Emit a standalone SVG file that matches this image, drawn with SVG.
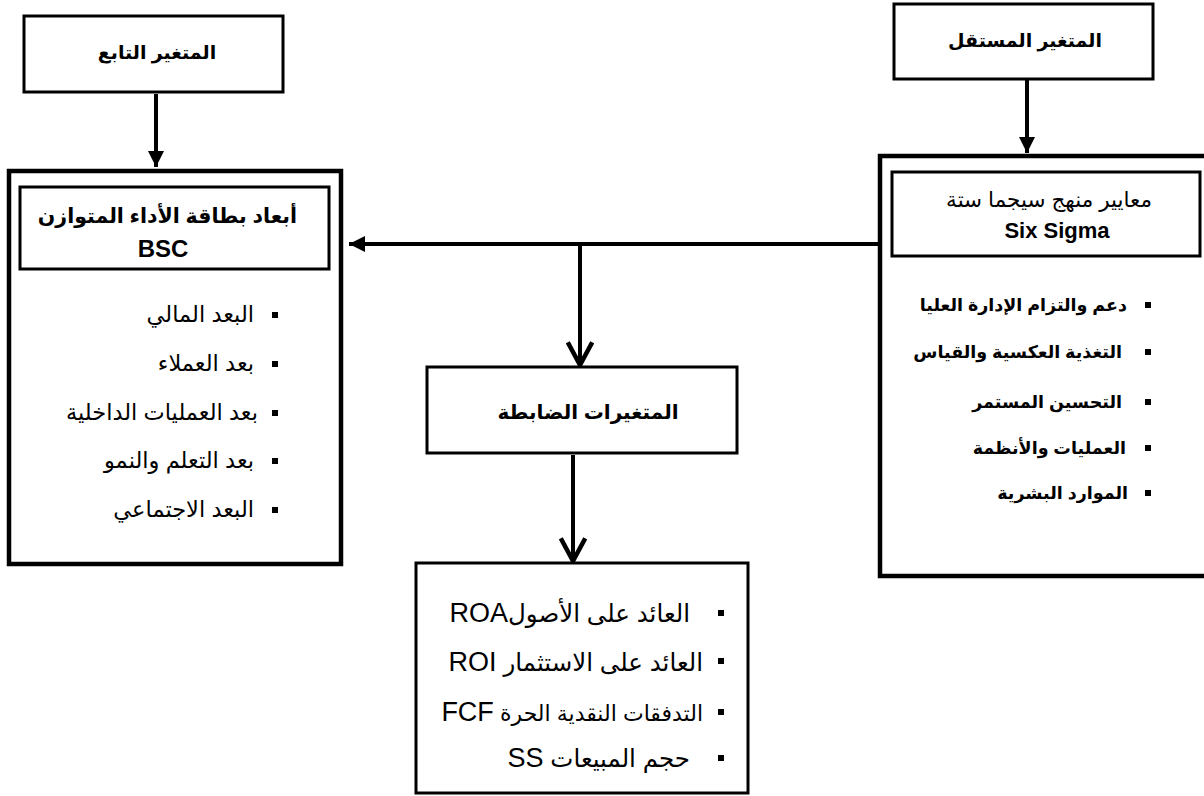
<svg xmlns="http://www.w3.org/2000/svg" width="1204" height="796" viewBox="0 0 1204 796">
  <style>
    .box { fill: #fff; stroke: #000; stroke-width: 3; }
    .frame { fill: #fff; stroke: #000; stroke-width: 4.5; }
    .t { font-family: "Liberation Sans", "DejaVu Sans", sans-serif; fill: #000; }
    .head { font-size: 19px; font-weight: bold; }
    .item { font-size: 22.5px; }
    .itemb { font-size: 17.5px; font-weight: bold; }
    .big { font-size: 24.5px; }
    .lat { font-size: 27px; }
    .line { stroke: #000; stroke-width: 4; fill: none; }
    .bul { fill: #000; }
  </style>
  <defs>
    <marker id="tri" viewBox="0 0 10 10" refX="10" refY="5" markerWidth="4" markerHeight="4" orient="auto" markerUnits="strokeWidth">
      <path d="M0,0 L10,5 L0,10 Z" fill="#000"/>
    </marker>
    <marker id="chev" viewBox="0 0 16 16" refX="14" refY="8" markerWidth="7" markerHeight="7" orient="auto" markerUnits="strokeWidth">
      <path d="M1,1 L14,8 L1,15" fill="none" stroke="#000" stroke-width="2.6"/>
    </marker>
  </defs>

  <!-- connectors -->
  <g id="connectors">
    <line class="line" x1="156" y1="94" x2="156" y2="167" marker-end="url(#tri)"/>
    <line class="line" x1="1027" y1="80" x2="1027" y2="153" marker-end="url(#tri)"/>
    <line class="line" x1="879" y1="244" x2="349" y2="244" marker-end="url(#tri)"/>
    <line class="line" x1="580" y1="246" x2="580" y2="365" marker-end="url(#chev)"/>
    <line class="line" x1="573" y1="455" x2="573" y2="561" marker-end="url(#chev)"/>
  </g>

  <!-- dependent variable -->
  <g id="dependent-title">
    <rect class="box" x="24" y="16" width="259" height="76"/>
    <text class="t head" x="157" y="59" text-anchor="middle" direction="rtl">المتغير التابع</text>
  </g>

  <g id="bsc">
    <rect class="frame" x="9" y="171" width="332" height="393"/>
    <rect class="box" x="20" y="187" width="309" height="82"/>
    <text class="t head" x="297" y="223" text-anchor="start" direction="rtl" style="font-size:20.5px">أبعاد بطاقة الأداء المتوازن</text>
    <text class="t" x="163" y="257" text-anchor="middle" style="font-size:24px;font-weight:bold">BSC</text>
    <g class="t item" direction="rtl">
      <rect class="bul" x="272" y="312" width="6" height="6"/>
      <text x="254" y="322" text-anchor="start">البعد المالي</text>
      <rect class="bul" x="272" y="361" width="6" height="6"/>
      <text x="254" y="371" text-anchor="start">بعد العملاء</text>
      <rect class="bul" x="272" y="410" width="6" height="6"/>
      <text x="258" y="420" text-anchor="start">بعد العمليات الداخلية</text>
      <rect class="bul" x="272" y="458" width="6" height="6"/>
      <text x="254" y="468" text-anchor="start">بعد التعلم والنمو</text>
      <rect class="bul" x="272" y="507" width="6" height="6"/>
      <text x="254" y="517" text-anchor="start">البعد الاجتماعي</text>
    </g>
  </g>

  <!-- independent variable -->
  <g id="independent-title">
    <rect class="box" x="894" y="4" width="259" height="75"/>
    <text class="t head" x="1025" y="47" text-anchor="middle" direction="rtl">المتغير المستقل</text>
  </g>

  <g id="six-sigma">
    <rect class="frame" x="880" y="156" width="330" height="420"/>
    <rect class="box" x="892" y="172" width="308" height="84"/>
    <text class="t" x="1152" y="207" text-anchor="start" direction="rtl" style="font-size:21.5px">معايير منهج سيجما ستة</text>
    <text class="t" x="1057" y="238" text-anchor="middle" style="font-size:22px;font-weight:bold">Six Sigma</text>
    <g class="t itemb" direction="rtl">
      <rect class="bul" x="1145" y="302" width="6" height="6"/>
      <text x="1127" y="311" text-anchor="start">دعم والتزام الإدارة العليا</text>
      <rect class="bul" x="1145" y="349" width="6" height="6"/>
      <text x="1122" y="358" text-anchor="start">التغذية العكسية والقياس</text>
      <rect class="bul" x="1145" y="399" width="6" height="6"/>
      <text x="1122" y="408" text-anchor="start">التحسين المستمر</text>
      <rect class="bul" x="1145" y="445" width="6" height="6"/>
      <text x="1126" y="454" text-anchor="start">العمليات والأنظمة</text>
      <rect class="bul" x="1145" y="490" width="6" height="6"/>
      <text x="1128" y="499" text-anchor="start">الموارد البشرية</text>
    </g>
  </g>

  <!-- control variables -->
  <g id="control-title">
    <rect class="box" x="427" y="367" width="310" height="86"/>
    <text class="t head" x="588" y="419" text-anchor="middle" direction="rtl" style="font-size:20px">المتغيرات الضابطة</text>
  </g>

  <g id="control-list">
    <rect class="box" x="416" y="563" width="332" height="230"/>
    <g class="t big" direction="rtl">
      <rect class="bul" x="718" y="610" width="6" height="6"/>
      <text x="690" y="622" text-anchor="start">العائد على الأصول<tspan class="lat">ROA</tspan></text>
      <rect class="bul" x="718" y="658" width="6" height="6"/>
      <text x="703" y="671" text-anchor="start">العائد على الاستثمار <tspan class="lat">ROI</tspan></text>
      <rect class="bul" x="718" y="709" width="6" height="6"/>
      <text x="703" y="721" text-anchor="start" style="font-size:22px">التدفقات النقدية الحرة <tspan class="lat">FCF</tspan></text>
      <rect class="bul" x="718" y="755" width="6" height="6"/>
      <text x="690" y="767" text-anchor="start">حجم المبيعات <tspan class="lat">SS</tspan></text>
    </g>
  </g>
</svg>
